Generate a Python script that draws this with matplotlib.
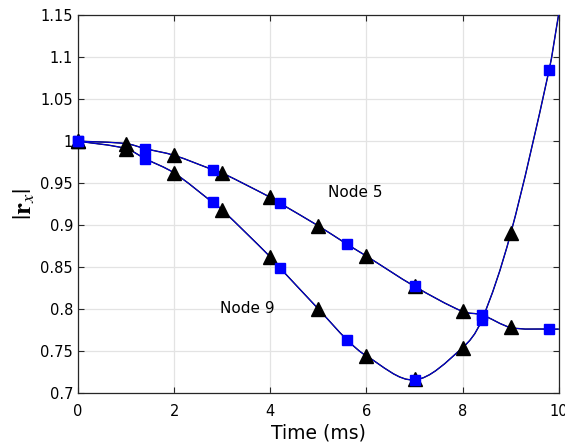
import numpy as np
import matplotlib
matplotlib.use("Agg")
import matplotlib.pyplot as plt
from matplotlib.path import Path
from matplotlib.patches import PathPatch

plt.rcParams["mathtext.fontset"] = "stix"

# Sample times (ms)
t_tri = [0, 1, 2, 3, 4, 5, 6, 7, 8, 9, 10]
t_sq = [0, 1.4, 2.8, 4.2, 5.6, 7.0, 8.4, 9.8]

# |r_x| for node 5
node5_tri = [1.000, 0.997, 0.983, 0.962, 0.933, 0.899, 0.863, 0.827, 0.797, 0.778, 0.776]
node5_sq = [1.000, 0.991, 0.966, 0.926, 0.877, 0.827, 0.793, 0.776]

# |r_x| for node 9
node9_tri = [1.000, 0.991, 0.962, 0.918, 0.862, 0.800, 0.744, 0.716, 0.754, 0.890, 1.152]
node9_sq = [1.000, 0.979, 0.927, 0.849, 0.763, 0.715, 0.787, 1.085]


def merged(ta, ya, tb, yb):
    """Union of both sample sets, sorted by time (shared times averaged)."""
    t = np.concatenate([ta, tb]).astype(float)
    y = np.concatenate([ya, yb]).astype(float)
    tu = np.unique(t)
    yu = np.array([y[t == v].mean() for v in tu])
    return tu, yu


def smooth_path(t, y):
    """Catmull-Rom curve through the samples, as cubic Bezier segments."""
    pts = np.column_stack([t, y])
    n = len(pts)
    verts = [pts[0]]
    codes = [Path.MOVETO]
    for i in range(n - 1):
        p0 = pts[i - 1] if i > 0 else pts[i]
        p1, p2 = pts[i], pts[i + 1]
        p3 = pts[i + 2] if i + 2 < n else pts[i + 1]
        h = p2[0] - p1[0]
        d1 = (p2 - p0) / (p2[0] - p0[0]) if p2[0] != p0[0] else (p2 - p1) / h
        d2 = (p3 - p1) / (p3[0] - p1[0]) if p3[0] != p1[0] else (p2 - p1) / h
        c1 = p1 + d1 * h / 3.0
        c2 = p2 - d2 * h / 3.0
        verts += [c1, c2, p2]
        codes += [Path.CURVE4] * 3
    return Path(verts, codes)


fig = plt.figure(figsize=(5.65, 4.47), dpi=100)
ax = fig.add_axes([0.138, 0.121, 0.851, 0.845])

for tri, sq in [(node5_tri, node5_sq), (node9_tri, node9_sq)]:
    tl, yl = merged(t_tri, tri, t_sq, sq)
    path = smooth_path(tl, yl)
    ax.add_patch(PathPatch(path, facecolor="none", edgecolor="black",
                           lw=1.0, zorder=2))
    ax.add_patch(PathPatch(path, facecolor="none", edgecolor="#0000ee",
                           lw=0.7, zorder=3))
    ax.plot(t_tri[:-1], tri[:-1], ls="none", marker="^", ms=9.5,
            color="black", zorder=4, clip_on=False)
    ax.plot(t_sq, sq, ls="none", marker="s", ms=7,
            color="#0000ff", zorder=5, clip_on=False)

ax.set_xlim(0, 10)
ax.set_ylim(0.7, 1.15)
ax.set_xticks([0, 2, 4, 6, 8, 10])
yt = [0.7, 0.75, 0.8, 0.85, 0.9, 0.95, 1.0, 1.05, 1.1, 1.15]
ax.set_yticks(yt)
ax.set_yticklabels(["0.7", "0.75", "0.8", "0.85", "0.9", "0.95", "1", "1.05", "1.1", "1.15"])
ax.grid(True, color="#e3e3e3", lw=0.9)
ax.set_axisbelow(True)
ax.tick_params(direction="in", top=True, right=True, labelsize=10.5, length=4,
               width=0.8, colors="#262626", labelcolor="black")
ax.tick_params(axis="x", pad=8)
for s in ax.spines.values():
    s.set_color("#262626")
    s.set_linewidth(0.9)

ax.set_xlabel("Time (ms)", fontsize=13.5, labelpad=3)
ax.set_ylabel(r"$|\mathbf{r}_x|$", fontsize=19, labelpad=2)

ax.text(5.2, 0.939, "Node 5", fontsize=11, va="center", ha="left")
ax.text(2.95, 0.801, "Node 9", fontsize=11, va="center", ha="left")

fig.savefig("out.png", dpi=100)
